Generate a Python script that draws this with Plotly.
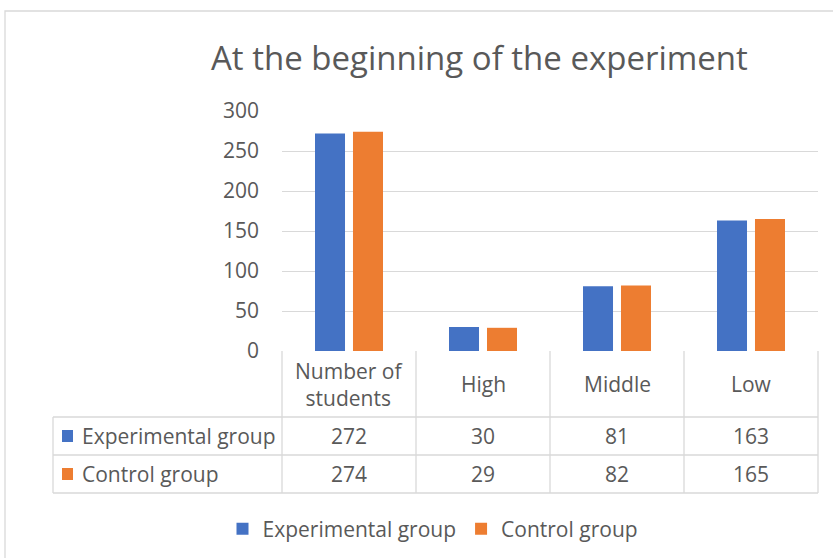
import plotly.graph_objects as go

categories = ["Number of students", "High", "Middle", "Low"]
header_labels = ["Number of<br>students", "High", "Middle", "Low"]
series_names = ["Experimental group", "Control group"]
experimental = [272, 30, 81, 163]
control = [274, 29, 82, 165]
series_values = [experimental, control]
colors = ["#4472C4", "#ED7D31"]
y_ticks = [0, 50, 100, 150, 200, 250, 300]

W, H = 833, 558
FONT = "Open Sans"
TXT = "#595959"
GRID = "#D9D9D9"
FS = 21


def px(x):
    return x / W


def py(y):
    return 1 - y / H


fig = go.Figure()
for name, vals, c in zip(series_names, series_values, colors):
    fig.add_trace(go.Bar(x=categories, y=vals, name=name, marker=dict(color=c, line=dict(width=0))))

x0, x1 = 282, 818
ytop, ybot = 111, 351
col_edges = [282, 416, 550, 684, 818]
row_lines = [417, 455, 493]

shapes = []
shapes.append(dict(type="rect", xref="paper", yref="paper", x0=px(5), x1=1.05, y0=-0.05, y1=py(11),
                   line=dict(color=GRID, width=1.3), fillcolor="rgba(0,0,0,0)", layer="below"))
for xe in col_edges:
    shapes.append(dict(type="line", xref="paper", yref="paper", x0=px(xe), x1=px(xe), y0=py(ybot), y1=py(493),
                       line=dict(color=GRID, width=1.3)))
shapes.append(dict(type="line", xref="paper", yref="paper", x0=px(53), x1=px(53), y0=py(417), y1=py(493),
                   line=dict(color=GRID, width=1.3)))
for yl in row_lines:
    shapes.append(dict(type="line", xref="paper", yref="paper", x0=px(53), x1=px(818), y0=py(yl), y1=py(yl),
                       line=dict(color=GRID, width=1.3)))

annotations = []
for cat, lab in zip(categories, header_labels):
    annotations.append(dict(x=cat, xref="x", y=py(384), yref="paper", text=lab, showarrow=False,
                            font=dict(family=FONT, size=FS, color=TXT), yanchor="middle", xanchor="center"))
row_centers = [436, 474]
for name, vals, c, yc in zip(series_names, series_values, colors, row_centers):
    shapes.append(dict(type="rect", xref="paper", yref="paper", x0=px(62), x1=px(73), y0=py(yc + 6), y1=py(yc - 6),
                       line=dict(width=0), fillcolor=c))
    annotations.append(dict(x=px(80), xref="paper", y=py(yc), yref="paper", text=name, showarrow=False,
                            font=dict(family=FONT, size=FS, color=TXT), xanchor="left", yanchor="middle"))
    for cat, v in zip(categories, vals):
        annotations.append(dict(x=cat, xref="x", y=py(yc), yref="paper", text=str(v), showarrow=False,
                                font=dict(family=FONT, size=FS, color=TXT), xanchor="center", yanchor="middle"))

annotations.append(dict(x=px(479), xref="paper", y=py(58), yref="paper", text="At the beginning of the experiment",
                        showarrow=False, font=dict(family=FONT, size=33, color=TXT), xanchor="center", yanchor="middle"))

fig.update_layout(
    width=W, height=H, autosize=False,
    margin=dict(l=0, r=0, t=0, b=0, pad=0, autoexpand=False),
    paper_bgcolor="white", plot_bgcolor="white",
    barmode="group", bargap=0.433, bargroupgap=0.21,
    font=dict(family=FONT, color=TXT),
    xaxis=dict(domain=[px(x0), px(x1)], showticklabels=False, showgrid=False, zeroline=False,
               showline=False, ticks="", automargin=False),
    yaxis=dict(domain=[py(ybot), py(ytop)], range=[0, 300], tickvals=y_ticks, showgrid=True, gridcolor=GRID,
               gridwidth=1.3, zeroline=False, showline=False, ticks="", automargin=False,
               tickfont=dict(family=FONT, size=FS, color=TXT), ticklabelstandoff=22),
    legend=dict(orientation="h", x=px(433), xanchor="center", y=py(529), yanchor="middle",
                font=dict(family=FONT, size=FS, color=TXT), itemwidth=30, bgcolor="rgba(0,0,0,0)"),
    shapes=shapes, annotations=annotations,
)

fig.write_html("out.html", config={"displayModeBar": False},
               post_script="document.body.style.margin='0px';document.body.style.overflow='hidden';")
